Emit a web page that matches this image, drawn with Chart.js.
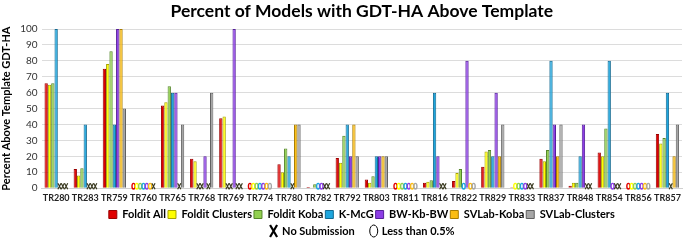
<!DOCTYPE html>
<html lang="en">
<head>
<meta charset="UTF-8">
<title>Percent of Models with GDT-HA Above Template</title>
<script src="https://cdn.jsdelivr.net/npm/chart.js"></script>
<style>
    body { margin: 0; background: #fff; }
    .wrap { width: 685px; height: 240px; }
</style>
</head>
<body>
<div class="wrap"><canvas id="gdtChart"></canvas></div>
<script>
// targets
const categories = ['TR280','TR283','TR759','TR760','TR765','TR768','TR769','TR774','TR780','TR782','TR792',
    'TR803','TR811','TR816','TR822','TR829','TR833','TR837','TR848','TR854','TR856','TR857'];

// null = no submission (X), 0 = less than 0.5% (ellipse)
const folditAll      = [66, 12, 75, 0, 52, 18.5, 44, 0, 15, 0.7, 19, 5.5, 0, 3.5, 4.5, 13.5, 0.6, 18.5, 1.5, 22.5, 0, 34];
const folditClusters = [65, 8, 78, 0, 54, 17, 45, 0, 10, 0.5, 16, 3.5, 0, 4, 9.5, 23, 0, 17, 3.5, 20, 0, 28];
const folditKoba     = [66, 12.5, 86, 0, 64, null, null, 0, 25, 2.5, 33, 7.5, 0, 5, 12, 24, 0, 24, 3.5, 37.5, 0, 31.5];
const kMcG           = [100, 40, 40, 0, 60, null, null, 0, 20, 0, 40, 20, 0, 60, 0, 20, 0, 80, 20, 80, 0, 60];
const bwKbBw         = [null, null, 100, 0, 60, 20, 100, 0, null, 0, 20, 20, 0, 20, 80, 60, 0, 40, 40, 0, 0, null];
const svlabKoba      = [null, null, 100, 0, null, null, null, 0, 40, null, 40, 20, 0, null, 0, 20, null, 20, null, null, 0, 20];
const svlabClusters  = [null, null, 50, null, 40, 60, null, 0, 40, null, 20, 20, 0, null, 0, 40, null, 40, null, null, 0, 40];

const yTicks = [0, 10, 20, 30, 40, 50, 60, 70, 80, 90, 100];

const series = [
    { label: 'Foldit All',      data: folditAll,      fill: '#e00000', line: '#9a0000' },
    { label: 'Foldit Clusters', data: folditClusters, fill: '#ffff00', line: '#a8a400' },
    { label: 'Foldit Koba',     data: folditKoba,     fill: '#92d050', line: '#55862a' },
    { label: 'K-McG',           data: kMcG,           fill: '#1ea6de', line: '#136a92' },
    { label: 'BW-Kb-BW',        data: bwKbBw,         fill: '#8d3de6', line: '#55209a' },
    { label: 'SVLab-Koba',      data: svlabKoba,      fill: '#fbbd12', line: '#a87c00' },
    { label: 'SVLab-Clusters',  data: svlabClusters,  fill: '#a6a6a6', line: '#606060' }
];

const FONT = 'Lato, "Open Sans", sans-serif';

// X / ellipse markers at the baseline
const markerPlugin = {
    id: 'markers',
    afterDatasetsDraw(chart) {
        const ctx = chart.ctx;
        const base = chart.scales.y.getPixelForValue(0);
        chart.data.datasets.forEach((ds, i) => {
            const meta = chart.getDatasetMeta(i);
            ds.data.forEach((v, j) => {
                const bar = meta.data[j];
                if (!bar) return;
                const x = bar.x;
                ctx.save();
                if (v === null) {
                    ctx.strokeStyle = '#3a3a20';
                    ctx.lineWidth = 1.2;
                    ctx.beginPath();
                    ctx.moveTo(x - 1.6, base - 5);
                    ctx.lineTo(x + 1.6, base + 1);
                    ctx.moveTo(x + 1.6, base - 5);
                    ctx.lineTo(x - 1.6, base + 1);
                    ctx.stroke();
                } else if (v === 0) {
                    ctx.strokeStyle = ds.backgroundColor;
                    ctx.lineWidth = 1.4;
                    ctx.beginPath();
                    ctx.ellipse(x, base - 2, 1.5, 2.8, 0, 0, Math.PI * 2);
                    ctx.stroke();
                }
                ctx.restore();
            });
        });
    }
};

// second legend row
const extraLegend = {
    id: 'extraLegend',
    afterDraw(chart) {
        const ctx = chart.ctx;
        const area = chart.chartArea;
        const cx = (area.left + area.right) / 2;
        const y = chart.height - 9;
        ctx.save();
        ctx.font = 'bold 11px ' + FONT;
        ctx.fillStyle = '#000';
        ctx.textBaseline = 'middle';
        const t1 = 'No Submission', t2 = 'Less than 0.5%';
        const w1 = ctx.measureText(t1).width, w2 = ctx.measureText(t2).width;
        const total = 10 + 3 + w1 + 14 + 10 + 3 + w2;
        let x = cx - total / 2;
        // X symbol
        ctx.strokeStyle = '#000';
        ctx.lineWidth = 2.2;
        ctx.beginPath();
        ctx.moveTo(x + 1, y - 6); ctx.lineTo(x + 8, y + 6);
        ctx.moveTo(x + 8, y - 6); ctx.lineTo(x + 1, y + 6);
        ctx.stroke();
        x += 13;
        ctx.fillText(t1, x, y);
        x += w1 + 14;
        ctx.lineWidth = 1;
        ctx.beginPath();
        ctx.ellipse(x + 5, y, 4, 6, 0, 0, Math.PI * 2);
        ctx.stroke();
        x += 13;
        ctx.fillText(t2, x, y);
        ctx.restore();
    }
};

new Chart(document.getElementById('gdtChart'), {
    type: 'bar',
    data: {
        labels: categories,
        datasets: series.map(s => ({
            label: s.label,
            data: s.data,
            backgroundColor: s.fill,
            borderColor: s.line,
            borderWidth: 1,
            categoryPercentage: 0.8,
            barPercentage: 1.0
        }))
    },
    options: {
        responsive: true,
        maintainAspectRatio: false,
        animation: false,
        layout: { padding: { top: 1, right: 3, bottom: 10, left: 0 } },
        plugins: {
            title: {
                display: true,
                text: 'Percent of Models with GDT-HA Above Template',
                fullSize: false,
                color: '#000',
                font: { family: FONT, size: 17.5, weight: 'bold' },
                padding: { top: 0, bottom: 7 }
            },
            legend: {
                position: 'bottom',
                fullSize: false,
                labels: {
                    boxWidth: 8,
                    boxHeight: 8,
                    padding: 2,
                    color: '#000',
                    font: { family: FONT, size: 11, weight: 'bold' }
                }
            },
            tooltip: { enabled: false }
        },
        scales: {
            x: {
                grid: { display: false, drawTicks: false },
                border: { color: '#d0d0d0' },
                ticks: {
                    autoSkip: false,
                    maxRotation: 0,
                    padding: 4,
                    color: '#222',
                    font: { family: FONT, size: 9, weight: 'bold' }
                }
            },
            y: {
                min: 0,
                max: 100,
                afterBuildTicks: axis => { axis.ticks = yTicks.map(v => ({ value: v })); },
                grid: { color: '#dcdcdc', drawTicks: false },
                border: { display: false },
                ticks: {
                    padding: 4,
                    color: '#333',
                    font: { family: FONT, size: 10 }
                },
                title: {
                    display: true,
                    text: 'Percent Above Template GDT-HA',
                    color: '#000',
                    padding: { top: 0, bottom: 3 },
                    font: { family: FONT, size: 11, weight: 'bold' }
                }
            }
        }
    },
    plugins: [markerPlugin, extraLegend]
});
</script>
</body>
</html>
